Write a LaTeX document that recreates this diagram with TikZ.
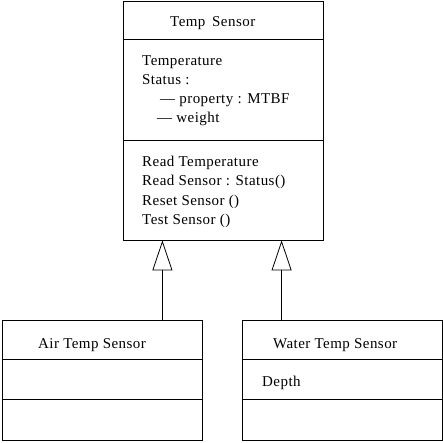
\documentclass[tikz,border=0pt]{standalone}
\usepackage{fontspec}
\setmainfont{Liberation Serif}[LetterSpace=3]
\usetikzlibrary{arrows.meta}

\tikzset{
  classbox/.style={draw, line width=0.8pt, minimum width=200pt, inner sep=0pt},
  member/.style={anchor=base west, inner sep=0pt, font=\fontsize{15}{18}\selectfont},
  inherit/.style={line width=0.8pt, -{Triangle[open, length=30pt, width=20pt]}}
}

\begin{document}
\begin{tikzpicture}[x=1pt, y=1pt]

        \useasboundingbox (0,0) rectangle (443,-443);

        % class boxes
        \node[classbox, minimum height=239pt] (temp) at (223,-120.5) {};
        \node[classbox, minimum height=120pt] (air) at (102,-380) {};
        \node[classbox, minimum height=120pt] (water) at (342,-380) {};

        % compartments
        \draw[line width=0.8pt] ([yshift=-39pt]temp.north west) -- ([yshift=-39pt]temp.north east);
        \draw[line width=0.8pt] ([yshift=-140pt]temp.north west) -- ([yshift=-140pt]temp.north east);
        \draw[line width=0.8pt] ([yshift=-40pt]air.north west) -- ([yshift=-40pt]air.north east);
        \draw[line width=0.8pt] ([yshift=-80pt]air.north west) -- ([yshift=-80pt]air.north east);
        \draw[line width=0.8pt] ([yshift=-40pt]water.north west) -- ([yshift=-40pt]water.north east);
        \draw[line width=0.8pt] ([yshift=-80pt]water.north west) -- ([yshift=-80pt]water.north east);

        % texts
        \node[member] (tempname) at (170,-27) {Temp\, Sensor};
        \node[member] (attr1) at (142,-66) {Temperature};
        \node[member] (attr2) at (142,-85) {Status :};
        \node[member] (attr3) at (160,-104) {--- property : MTBF};
        \node[member] (attr4) at (157,-123) {--- weight};
        \node[member] (op1) at (142,-167) {Read Temperature};
        \node[member] (op2) at (142,-186) {Read Sensor : Status()};
        \node[member] (op3) at (142,-205) {Reset Sensor ()};
        \node[member] (op4) at (142,-224) {Test Sensor ()};

        \node[member] (airname) at (38,-348) {Air Temp Sensor};
        \node[member] (watername) at (273,-348) {Water Temp Sensor};
        \node[member] (depth) at (262,-386) {Depth};

        % inheritance
        \draw[inherit] ([xshift=-40pt]air.north east) -- ([xshift=-40pt]air.north east |- temp.south);
        \draw[inherit] ([xshift=40pt]water.north west) -- ([xshift=40pt]water.north west |- temp.south);

\end{tikzpicture}
\end{document}
